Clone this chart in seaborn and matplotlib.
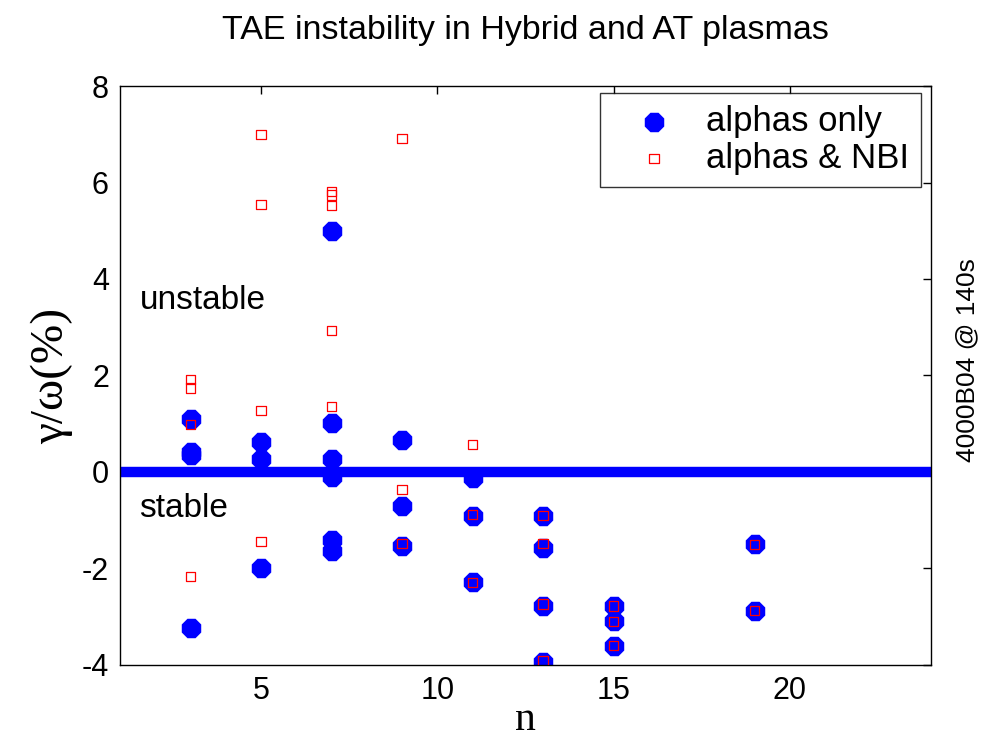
import numpy as np
import pandas as pd
import matplotlib
matplotlib.use("Agg")
import matplotlib.pyplot as plt
import seaborn as sns

# growth rates gamma/omega (%) vs toroidal mode number n
n_alpha = [3, 3, 3, 3,
           5, 5, 5,
           7, 7, 7, 7, 7, 7,
           9, 9, 9,
           11, 11, 11,
           13, 13, 13, 13,
           15, 15, 15,
           19, 19]
g_alpha = [1.09, 0.42, 0.36, -3.23,
           0.62, 0.26, -2.00,
           5.00, 1.01, 0.26, -0.10, -1.41, -1.63,
           0.66, -0.70, -1.53,
           -0.12, -0.91, -2.29,
           -0.92, -1.58, -2.79, -3.95,
           -2.79, -3.10, -3.61,
           -1.50, -2.88]

n_nbi = [3, 3, 3, 3,
         5, 5, 5, 5,
         7, 7, 7, 7, 7,
         9, 9, 9,
         11, 11, 11,
         13, 13, 13, 13,
         15, 15, 15,
         19, 19]
g_nbi = [1.91, 1.74, 0.99, -2.17,
         6.99, 5.55, 1.28, -1.44,
         5.82, 5.74, 5.53, 2.93, 1.35,
         6.91, -0.36, -1.48,
         0.57, -0.88, -2.29,
         -0.91, -1.48, -2.74, -3.92,
         -2.78, -3.10, -3.60,
         -1.50, -2.88]

df_alpha = pd.DataFrame({"n": n_alpha, "g": g_alpha})
df_nbi = pd.DataFrame({"n": n_nbi, "g": g_nbi})

sns.set_style("white")
plt.rcParams["font.family"] = ["Liberation Sans", "DejaVu Sans"]
plt.rcParams["axes.unicode_minus"] = False
plt.rcParams["text.color"] = "black"
plt.rcParams["axes.labelcolor"] = "black"
plt.rcParams["xtick.color"] = "black"
plt.rcParams["ytick.color"] = "black"

fig = plt.figure(figsize=(9.84, 7.42), dpi=100)
ax = fig.add_axes([0.122, 0.104, 0.824, 0.78])

# stability boundary
ax.axhline(0, color="blue", linewidth=7.5, zorder=1)

sns.scatterplot(data=df_alpha, x="n", y="g", marker="8", s=230, color="blue",
                edgecolor="blue", linewidth=0, label="alphas only", ax=ax, zorder=2)
sns.scatterplot(data=df_nbi, x="n", y="g", marker="s", s=45, facecolors="none",
                edgecolor="red", linewidth=0.9, label="alphas & NBI", ax=ax, zorder=3)

ax.set_xlim(1, 24)
ax.set_ylim(-4, 8)
ax.set_xticks([5, 10, 15, 20])
ax.set_yticks([-4, -2, 0, 2, 4, 6, 8])
ax.tick_params(direction="in", length=6, width=1, labelsize=22, top=True, right=True,
               pad=8)
for s in ax.spines.values():
    s.set_color("black")
    s.set_linewidth(1)

ax.set_xlabel("n", family=["Liberation Serif", "DejaVu Serif"], fontsize=30, labelpad=-4)
ax.set_ylabel("γ/ω(%)", family=["Liberation Serif", "DejaVu Serif"], fontsize=34, labelpad=6)
ax.set_title("TAE instability in Hybrid and AT plasmas", fontsize=24.5, pad=34)

ax.text(1.55, 3.55, "unstable", fontsize=24, va="center")
ax.text(1.55, -0.75, "stable", fontsize=24, va="center")

leg = ax.legend(loc="upper right", fontsize=25, frameon=True, fancybox=False,
                edgecolor="black", borderpad=0.35, handlelength=2.4, handletextpad=0.3,
                labelspacing=0.1, borderaxespad=0, bbox_to_anchor=(0.988, 0.988))
leg.get_frame().set_linewidth(1)

fig.text(0.983, 0.515, "4000B04 @ 140s", rotation=90, fontsize=19, ha="center", va="center")

fig.savefig("out.png", dpi=100)
